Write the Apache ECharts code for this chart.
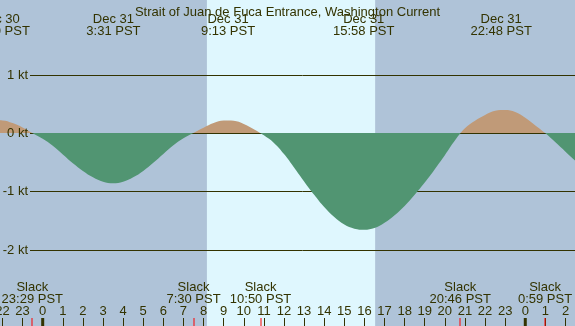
<!DOCTYPE html>
<html>
<head>
<meta charset="utf-8">
<script src="https://cdn.jsdelivr.net/npm/echarts@6/dist/echarts.min.js"></script>
<style>
  html, body { margin: 0; padding: 0; }
  #chart { width: 575px; height: 326px; }
</style>
</head>
<body>
<div id="chart"></div>
<script>
const titleText = 'Strait of Juan de Fuca Entrance, Washington Current'

// current speed in knots every half hour, hours counted from Dec 31 00:00 PST
const hours = [-3, -2.5, -2, -1.5, -1, -0.5,
  0, 0.5, 1, 1.5, 2, 2.5, 3, 3.5, 4, 4.5, 5, 5.5, 6, 6.5, 7, 7.5,
  8, 8.5, 9, 9.5, 10, 10.5,
  11, 11.5, 12, 12.5, 13, 13.5, 14, 14.5, 15, 15.5, 16, 16.5,
  17, 17.5, 18, 18.5, 19, 19.5, 20, 20.5,
  21, 21.5, 22, 22.5, 23, 23.5, 24, 24.5,
  25, 25.5, 26, 26.5, 27]
const knots = [0.20, 0.218, 0.215, 0.17, 0.095, -0.005,
  -0.10, -0.22, -0.37, -0.52, -0.65, -0.76, -0.835, -0.86, -0.835, -0.76, -0.65, -0.51, -0.36, -0.21, -0.09, 0,
  0.09, 0.17, 0.215, 0.21, 0.155, 0.065,
  -0.04, -0.17, -0.36, -0.59, -0.83, -1.06, -1.27, -1.44, -1.57, -1.64, -1.66, -1.63,
  -1.54, -1.41, -1.25, -1.06, -0.85, -0.62, -0.38, -0.13,
  0.08, 0.21, 0.31, 0.38, 0.395, 0.36, 0.26, 0.13,
  -0.005, -0.16, -0.32, -0.48, -0.63]

// max ebb / max flood events (top labels)
const maxDates = ['Dec 30', 'Dec 31', 'Dec 31', 'Dec 31', 'Dec 31']
const maxDays = [-1, 0, 0, 0, 0]
const maxClock = ['21:50', '3:31', '9:13', '15:58', '22:48']

// slack water events (bottom labels)
const slackDays = [-1, 0, 0, 0, 1]
const slackClock = ['23:29', '7:30', '10:50', '20:46', '0:59']

// sunrise / sunset
const sunDays = [0, 0]
const sunClock = ['8:10', '16:32']

const midnightDays = [0, 1]
const kticks = [-2, -1, 0, 1]

const ink = '#333300'
const nightColor = '#afc3d8'
const dayColor = '#dff7fe'
const ebbColor = '#c09a78'
const floodColor = '#519572'
const fontFamily = '"Liberation Sans", Arial, sans-serif'
const font = '13px ' + fontFamily

function toHours(day, clock) {
    const p = clock.split(':')
    return day * 24 + Number(p[0]) + Number(p[1]) / 60
}

const maxTimes = maxClock.map((c, i) => toHours(maxDays[i], c))
const slackTimes = slackClock.map((c, i) => toHours(slackDays[i], c))
const sunTimes = sunClock.map((c, i) => toHours(sunDays[i], c))
const midnights = midnightDays.map(d => d * 24)

const curve = hours.map((h, i) => [h, knots[i]])

const chart = echarts.init(document.getElementById('chart'))

var option = {
    backgroundColor: nightColor,
    animation: false,
    title: {
        text: titleText,
        left: 'center',
        top: 1,
        textStyle: { color: ink, fontSize: 13, fontWeight: 'normal', fontFamily: fontFamily },
    },
    grid: [
        { left: -17.62, right: -10.6, top: 0, bottom: 0, containLabel: false, outerBoundsMode: 'none' },
        { left: 30, right: 0, top: 75, bottom: 76, containLabel: false, outerBoundsMode: 'none' },
    ],
    xAxis: [
        {
            gridIndex: 0,
            type: 'value',
            position: 'bottom',
            min: -3,
            max: 27,
            interval: 1,
            axisLine: { show: false, onZero: false },
            splitLine: { show: false },
            axisTick: { inside: true, length: 8, lineStyle: { color: ink, width: 1 } },
            axisLabel: {
                inside: true,
                margin: 8.5,
                interval: 0,
                color: ink,
                fontSize: 13,
                lineHeight: 13,
                fontFamily: fontFamily,
                formatter: v => String(((v % 24) + 24) % 24),
            },
            z: 4,
        },
        { gridIndex: 1, type: 'value', min: 0, max: 1, show: false },
    ],
    yAxis: [
        { gridIndex: 0, type: 'value', min: -3.309, max: 2.28, show: false },
        {
            gridIndex: 1,
            type: 'value',
            position: 'left',
            min: kticks[0],
            max: kticks[kticks.length - 1],
            interval: 1,
            axisLine: { show: false },
            axisTick: { show: false },
            axisLabel: { show: false },
            splitLine: { show: true, lineStyle: { color: ink, width: 1 } },
            z: 1,
        },
        {
            gridIndex: 1,
            type: 'value',
            position: 'left',
            offset: 0,
            min: kticks[0],
            max: kticks[kticks.length - 1],
            interval: 1,
            axisLine: { show: false },
            axisTick: { show: false },
            splitLine: { show: false },
            axisLabel: {
                margin: 2,
                color: ink,
                fontSize: 13,
                fontFamily: fontFamily,
                formatter: '{value} kt',
            },
            z: 5,
        },
    ],
    series: [
        {
            name: 'current',
            type: 'line',
            xAxisIndex: 0,
            yAxisIndex: 0,
            z: 2,
            data: curve,
            smooth: 0.4,
            showSymbol: false,
            lineStyle: { width: 0 },
            areaStyle: { opacity: 1, origin: 0, color: floodColor },
        },
    ],
}

chart.setOption(option)

function toPx(t, v) {
    return chart.convertToPixel({ xAxisIndex: 0, yAxisIndex: 0 }, [t, v])
}
function px(t) {
    return toPx(t, 0)[0]
}

// split the fill colour at the 0 kt level: ebb above, flood below
const zeroY = toPx(0, 0)[1]
chart.setOption({
    series: [{
        areaStyle: {
            color: new echarts.graphic.LinearGradient(0, zeroY - 1, 0, zeroY + 1, [
                { offset: 0.5, color: ebbColor },
                { offset: 0.5, color: floodColor },
            ], true),
        },
    }],
})

// daylight band, event labels and event ticks placed through the axis scales
const graphics = []
const a = px(sunTimes[0])
const b = px(sunTimes[1])
graphics.push({
    type: 'rect', z: -10, silent: true,
    shape: { x: a, y: 0, width: b - a, height: 326 },
    style: { fill: dayColor },
})
maxTimes.forEach((t, i) => {
    graphics.push({
        type: 'text', z: 10, silent: true, x: px(t), y: 25.3,
        style: {
            text: maxDates[i] + '\n' + maxClock[i] + ' PST',
            fill: ink, font: font, align: 'center', verticalAlign: 'middle', lineHeight: 12.6,
        },
    })
})
slackTimes.forEach((t, i) => {
    const x = px(t)
    graphics.push({
        type: 'text', z: 10, silent: true, x: x, y: 293.5,
        style: {
            text: 'Slack\n' + slackClock[i] + ' PST',
            fill: ink, font: font, align: 'center', verticalAlign: 'middle', lineHeight: 12.6,
        },
    })
    graphics.push({
        type: 'rect', z: 10, silent: true,
        shape: { x: Math.round(x) - 0.5, y: 318, width: 1, height: 8 },
        style: { fill: '#ff0000' },
    })
})
midnights.forEach(t => {
    const x = px(t)
    graphics.push({
        type: 'rect', z: 10, silent: true,
        shape: { x: x - 1.5, y: 318, width: 3, height: 8 },
        style: { fill: ink },
    })
})

chart.setOption({ graphic: { elements: graphics } })
</script>
</body>
</html>
